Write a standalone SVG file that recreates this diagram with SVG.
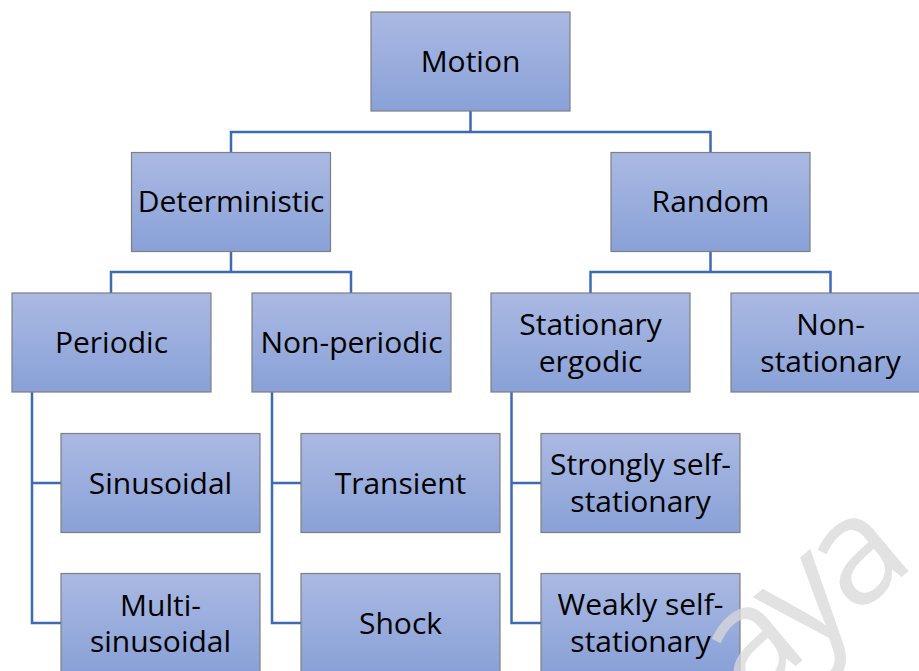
<svg xmlns="http://www.w3.org/2000/svg" width="919" height="671" viewBox="0 0 919 671">
<defs>
<linearGradient id="g" x1="0" y1="0" x2="0" y2="1">
<stop offset="0" stop-color="#aab9e2"/>
<stop offset="1" stop-color="#89a1d8"/>
</linearGradient>
<style>
.box{fill:url(#g);stroke:#7f7f7f;stroke-width:1.2}
.t{font-family:"Open Sans","Liberation Sans",sans-serif;font-size:30px;fill:#000;text-anchor:middle}
.c{fill:none;stroke:#3e69b4;stroke-width:2.5}
.wm{font-family:"Open Sans","Liberation Sans",sans-serif;font-size:150px;letter-spacing:-10px;fill:#d9d9d9;opacity:0.75}
</style>
</defs>
<rect width="919" height="671" fill="#fff"/>
<g id="connectors">
<path class="c" d="M470.5 111V132M231 152V132H710.5V152"/>
<path class="c" d="M231 252V272M111 293V272H351V293"/>
<path class="c" d="M710.5 252V272M590.5 293V272H830.5V293"/>
<path class="c" d="M32 392V623H61M32 483H61"/>
<path class="c" d="M272 392V623H301M272 483H301"/>
<path class="c" d="M511.5 392V623H541M511.5 483H541"/>
</g>
<g id="motion"><rect class="box" x="371" y="12" width="199" height="99"/><text class="t" x="470.5" y="72">Motion</text></g>
<g id="deterministic"><rect class="box" x="131.5" y="152.5" width="199" height="99"/><text class="t" x="231" y="212">Deterministic</text></g>
<g id="random"><rect class="box" x="611" y="152.5" width="199" height="99"/><text class="t" x="710.5" y="212">Random</text></g>
<g id="periodic"><rect class="box" x="12" y="293" width="199" height="99"/><text class="t" x="111.5" y="353">Periodic</text></g>
<g id="non-periodic"><rect class="box" x="252" y="293" width="199" height="99"/><text class="t" x="351.5" y="353">Non-periodic</text></g>
<g id="stationary-ergodic"><rect class="box" x="491" y="293" width="199" height="99"/><text class="t" x="590.5" y="335">Stationary</text><text class="t" x="590.5" y="372">ergodic</text></g>
<g id="non-stationary"><rect class="box" x="731" y="293" width="199" height="99"/><text class="t" x="830.5" y="335">Non-</text><text class="t" x="830.5" y="372">stationary</text></g>
<g id="sinusoidal"><rect class="box" x="61" y="433.5" width="199" height="99"/><text class="t" x="160.5" y="494">Sinusoidal</text></g>
<g id="multi-sinusoidal"><rect class="box" x="61" y="573.5" width="199" height="99"/><text class="t" x="160.5" y="616">Multi-</text><text class="t" x="160.5" y="652">sinusoidal</text></g>
<g id="transient"><rect class="box" x="301" y="433.5" width="199" height="99"/><text class="t" x="400.5" y="494">Transient</text></g>
<g id="shock"><rect class="box" x="301" y="573.5" width="199" height="99"/><text class="t" x="400.5" y="634">Shock</text></g>
<g id="strongly"><rect class="box" x="541" y="433.5" width="199" height="99"/><text class="t" x="640.5" y="475">Strongly self-</text><text class="t" x="640.5" y="512">stationary</text></g>
<g id="weakly"><rect class="box" x="541" y="573.5" width="199" height="99"/><text class="t" x="640.5" y="615">Weakly self-</text><text class="t" x="640.5" y="652">stationary</text></g>
<text class="wm" transform="translate(748 706) rotate(-40)">aya</text>
</svg>
